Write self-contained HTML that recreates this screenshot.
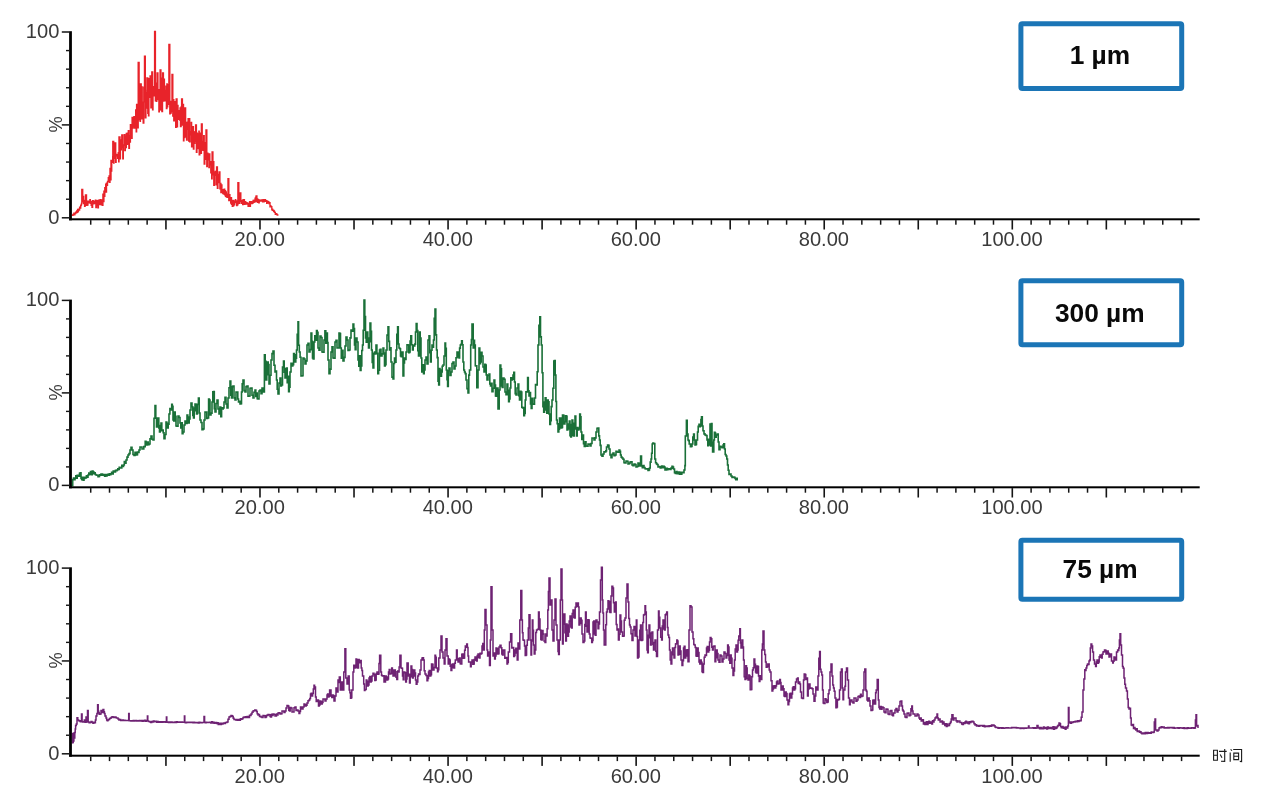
<!DOCTYPE html>
<html><head><meta charset="utf-8"><title>chromatograms</title>
<style>
html,body{margin:0;padding:0;background:#fff;}
body{width:1280px;height:807px;overflow:hidden;font-family:"Liberation Sans",sans-serif;}
svg{display:block;filter:blur(0.45px)}
.t{font-family:"Liberation Sans",sans-serif;font-size:20.1px;fill:#3a3a3a;}
.p{font-family:"Liberation Sans",sans-serif;font-size:18.3px;fill:#3a3a3a;}
.b{font-family:"Liberation Sans",sans-serif;font-size:26.3px;font-weight:bold;fill:#0a0a0a;}
.tr{fill:none;stroke-linejoin:miter;stroke-miterlimit:2;}
</style></head><body>
<svg width="1280" height="807" viewBox="0 0 1280 807">
<rect width="1280" height="807" fill="#fff"/>
<path class="tr" stroke="#e8232a" stroke-width="1.4" d="M72.0 215.1H72.5V215.2H73.0V214.4H73.4V214.4H73.9V213.3H74.3V214.8H74.8V213.1H75.3V213.6H75.6V212.2H76.2V212.7H76.7V211.0H77.1V212.2H77.6V209.4H78.0V211.6H78.4V209.1H79.0V210.1H79.6V207.2H80.1V208.1H80.7V205.5H81.1V204.9H81.5V203.5H81.8V189.5H82.7V201.7H83.1V196.4H83.6V203.5H84.1V200.5H84.6V206.3H85.1V201.0H85.5V195.0H86.5V205.4H87.0V201.1H87.5V205.1H87.9V201.1H88.4V202.8H88.8V201.5H89.4V202.4H89.9V199.8H90.3V203.3H90.9V202.1H91.2V205.2H91.6V201.5H92.0V207.2H92.6V200.7H93.2V203.8H93.6V201.3H93.9V203.5H94.4V201.5H94.8V203.3H95.4V200.3H95.9V207.6H96.4V200.7H96.9V205.6H97.4V201.0H97.9V207.7H98.4V200.2H98.9V203.2H99.3V202.5H99.8V204.6H100.1V199.8H100.6V202.2H101.1V200.2H101.5V204.8H102.0V200.0H102.4V205.2H102.9V194.1H103.3V201.5H103.9V191.1H104.4V196.4H104.8V187.8H105.2V191.6H105.7V184.3H106.2V192.0H106.5V183.2H107.1V185.3H107.5V181.5H107.9V181.9H108.3V177.8H108.7V179.9H109.1V175.9H109.6V182.4H110.0V168.4H110.5V179.9H111.0V160.4H111.3V171.1H111.7V161.7H112.3V162.3H112.7V156.8H112.8V141.5H113.7V163.1H114.0V146.5H114.6V158.2H114.8V143.0H115.7V162.3H116.1V155.0H116.5V155.9H117.1V154.4H117.7V158.2H118.3V152.8H118.7V161.9H119.0V137.0H120.0V158.9H120.4V141.8H120.8V149.8H121.3V140.0H121.8V148.2H121.8V135.0H122.8V158.8H123.3V144.9H123.8V145.2H124.4V134.8H124.8V150.6H125.3V136.3H125.8V147.5H126.3V133.4H126.8V144.2H127.4V133.3H127.8V143.8H128.3V130.7H128.9V148.4H129.4V135.8H129.8V142.0H130.4V124.7H130.8V134.3H131.3V124.8H131.7V138.3H132.1V117.4H132.5V128.1H132.8V126.7H133.4V126.5H133.9V116.6H134.3V128.0H134.8V118.4H135.2V124.8H135.7V109.9H136.2V131.8H136.6V104.5H137.0V121.4H137.5V111.6H138.0V127.9H138.2V62.5H139.1V119.8H139.6V104.3H140.1V121.4H140.4V84.0H141.2V118.9H141.8V87.0H142.2V110.6H142.8V102.2H143.2V123.1H143.8V87.2H144.3V101.9H144.5V56.3H145.3V117.9H145.9V92.6H146.4V108.1H146.8V90.5H146.9V78.0H147.8V113.4H148.1V80.3H148.5V115.7H148.9V78.6H149.4V97.2H150.0V90.2H150.1V76.0H150.9V107.8H151.5V77.5H151.8V72.0H152.6V109.9H153.0V90.5H153.6V95.7H154.0V86.8H154.6V31.5H155.4V100.9H155.9V87.8H156.4V101.3H156.8V83.2H157.1V73.0H157.9V99.6H158.4V95.4H158.9V111.7H159.3V89.8H159.8V109.4H160.1V70.0H160.9V110.0H161.5V78.1H161.9V111.5H162.5V85.2H162.6V73.0H163.4V101.0H163.9V79.3H164.4V100.3H164.8V90.4H165.4V100.7H165.9V86.1H166.4V108.5H166.9V83.9H167.2V106.7H167.7V84.6H168.1V104.4H168.7V85.9H168.9V44.5H169.8V113.9H170.2V101.4H170.8V113.0H171.2V101.5H171.8V111.3H172.0V74.5H172.8V116.1H173.3V99.7H173.8V120.9H174.4V110.7H174.8V114.1H175.2V101.7H175.7V127.3H176.2V99.0H177.0V126.8H177.5V105.5H178.0V115.1H178.4V112.5H178.8V119.4H179.3V110.7H179.7V120.1H180.1V108.0H180.5V126.5H181.1V106.9H181.6V99.0H182.4V125.0H183.0V104.5H183.5V140.7H183.9V121.2H184.4V137.6H184.8V108.0H185.6V136.7H186.2V122.6H186.6V140.0H187.2V122.1H187.7V129.0H188.1V118.7H188.7V141.1H189.1V118.6H189.7V141.7H190.1V131.7H190.6V134.9H191.2V122.4H191.6V146.7H192.1V130.3H192.6V142.8H193.0V126.6H193.4V149.0H193.9V132.9H194.5V143.2H194.9V131.8H195.4V141.0H195.6V125.0H196.4V152.2H196.9V133.1H197.3V148.6H197.9V134.0H198.4V143.6H198.9V131.3H199.2V154.9H199.8V133.1H200.2V148.8H200.7V142.6H201.2V153.2H201.4V124.0H202.2V150.1H202.7V141.5H203.1V150.2H203.7V135.8H204.2V164.1H204.8V142.8H205.3V159.3H205.8V153.5H206.0V130.0H206.8V166.6H207.3V153.2H207.9V159.7H208.4V157.1H208.9V167.6H209.3V153.9H209.8V164.8H210.3V161.7H210.8V172.8H211.3V167.1H211.7V178.8H212.1V152.0H212.9V174.9H213.4V161.6H213.8V185.2H214.3V172.3H214.8V175.3H215.4V171.4H215.9V184.7H216.5V170.7H216.6V167.0H217.4V188.3H217.9V178.6H218.4V182.5H218.7V174.5H219.1V172.0H219.9V188.9H220.5V183.5H220.9V192.6H221.4V185.0H221.9V192.0H222.3V190.2H222.8V193.5H223.3V189.7H223.8V194.0H224.1V189.1H224.7V194.9H225.1V190.6H225.5V196.2H226.0V191.9H226.3V196.9H226.7V194.3H227.1V197.3H227.6V194.7H228.0V178.8H228.8V200.6H229.3V194.6H229.9V200.4H230.3V198.0H230.7V203.1H231.1V197.6H231.5V204.4H231.9V201.2H232.3V206.2H232.8V200.5H233.2V205.9H233.7V200.9H234.1V204.9H234.7V201.3H235.0V202.5H235.4V199.7H235.7V202.3H236.3V201.7H236.7V205.5H237.1V201.0H237.7V204.8H237.9V182.7H238.8V203.2H239.3V197.6H239.8V203.2H239.9V193.0H240.8V201.5H241.3V200.5H241.7V203.2H242.2V200.6H242.7V204.6H243.1V199.8H243.5V204.1H244.0V199.8H244.4V204.2H244.9V201.6H245.3V203.7H245.7V202.2H246.1V204.1H246.6V202.7H247.0V204.0H247.6V203.2H248.1V206.4H248.6V203.9H249.1V204.4H249.6V201.8H250.0V206.3H250.4V202.7H250.8V203.6H251.3V201.7H251.6V203.5H252.2V202.2H252.5V203.0H253.1V200.4H253.6V202.3H254.1V200.2H254.7V201.6H255.1V198.3H255.5V201.8H255.8V197.2H256.1V196.0H256.9V201.5H257.3V198.9H257.7V202.2H258.2V199.8H258.8V202.9H259.2V200.2H259.7V201.1H260.2V200.2H260.8V201.1H261.3V199.9H261.8V200.9H262.2V199.9H262.6V201.7H263.1V199.8H263.6V201.9H264.1V199.8H264.7V201.4H265.1V199.6H265.5V201.3H266.1V200.8H266.7V203.3H267.2V201.3H267.7V202.0H268.2V201.8H268.8V203.5H269.4V202.8H270.0V206.7H270.4V205.6H270.8V206.6H271.3V206.7H271.8V209.7H272.2V209.2H272.6V210.4H273.0V210.2H273.6V211.4H273.9V210.9H274.4V212.2H274.8V212.4H275.3V214.2H275.9V213.6H276.3V214.1H276.8V214.1H277.2V215.1H278.0V215.5"/>
<path class="tr" stroke="#1a7038" stroke-width="1.6" d="M71.6 485.6H72.7V479.5H73.5V478.0H74.2V479.7H75.0V478.0H75.8V475.8H76.5V478.1H77.2V475.4H78.0V476.0H78.8V476.3H79.5V473.3H80.3V472.9H81.0V478.5H81.8V479.6H82.5V477.2H83.2V480.1H84.0V478.5H84.8V477.3H85.6V477.9H86.4V475.9H87.2V477.3H88.0V475.0H88.8V473.1H89.7V474.4H90.5V471.6H91.3V474.7H92.2V471.0H93.0V471.8H93.8V473.7H94.5V472.9H95.2V474.5H96.0V475.0H97.0V475.2H98.0V476.7H98.8V476.4H99.5V474.8H100.2V475.3H101.0V474.0H101.8V474.1H102.5V475.3H103.2V474.6H104.0V475.5H104.8V476.3H105.5V474.6H106.2V475.9H107.0V475.0H107.8V474.2H108.5V475.3H109.3V473.8H110.0V474.6H110.8V474.0H111.6V472.2H112.4V473.9H113.2V471.1H114.0V471.5H114.8V472.0H115.5V470.2H116.2V470.8H117.0V470.0H117.8V468.9H118.5V469.4H119.2V467.3H120.0V468.0H120.9V468.0H121.8V465.2H122.6V466.5H123.5V465.0H124.3V461.6H125.2V463.2H126.0V460.0H127.0V457.1H128.0V455.0H129.0V453.6H130.0V450.0H131.0V447.2H132.0V450.0H133.0V454.5H134.0V455.5H135.0V452.3H136.0V455.0H136.8V454.7H137.5V452.0H138.2V452.5H139.0V450.0H140.0V447.0H141.0V447.0H142.0V449.0H143.0V449.0H143.8V446.6H144.5V446.6H145.2V441.4H146.0V442.0H146.8V444.9H147.5V442.1H148.2V444.7H149.0V444.0H150.0V438.8H151.0V436.0H152.0V439.2H153.0V440.0H154.0V418.2H155.0V405.5H155.8V418.1H156.5V427.0H157.2V419.0H158.0V418.0H158.8V428.0H159.5V432.0H160.2V425.6H161.0V423.0H161.8V430.7H162.5V430.0H163.2V432.7H164.0V438.6H165.0V434.5H166.0V422.0H166.8V423.4H167.5V428.0H168.2V424.1H169.0V414.0H169.9V408.5H170.8V410.0H171.7V404.3H172.3V406.3H173.0V420.0H173.8V420.9H174.5V412.0H175.2V416.3H176.0V426.0H177.0V426.3H178.0V416.0H179.0V417.5H180.0V423.0H180.8V428.0H181.5V422.7H182.2V433.6H183.0V432.0H184.0V425.0H185.0V421.0H186.0V423.4H187.0V415.0H187.8V417.0H188.5V423.0H189.2V418.9H190.0V410.0H191.0V403.0H192.0V406.8H192.8V415.5H193.5V418.0H194.2V408.1H195.0V404.0H195.8V410.7H196.5V414.0H197.4V404.4H198.4V398.0H199.2V413.0H200.0V420.0H201.0V422.5H202.0V429.7H203.0V428.9H204.0V420.0H205.0V412.1H206.0V412.0H206.8V418.5H207.5V418.0H208.6V399.0H209.3V400.0H210.0V415.0H211.0V413.1H212.0V402.0H212.8V391.7H213.6V391.6H214.3V408.8H215.0V412.0H216.0V403.5H217.0V400.0H218.0V409.0H219.0V414.0H219.9V407.0H220.8V416.8H221.6V407.8H222.5V409.0H223.2V408.0H224.0V402.0H225.0V397.3H226.0V404.0H227.0V407.9H228.0V398.0H229.0V387.8H230.0V381.0H230.8V395.3H231.5V398.0H232.2V386.6H233.0V386.0H234.0V397.9H235.0V400.0H236.0V392.1H237.0V392.0H237.8V399.0H238.5V402.0H239.2V401.3H240.0V404.0H240.8V403.8H241.5V392.0H242.2V383.7H243.0V380.0H244.0V390.6H245.0V392.0H246.0V386.6H247.0V386.0H248.0V396.2H249.0V396.0H250.0V388.3H251.0V388.0H252.0V395.3H253.0V398.0H254.0V392.4H255.0V390.0H255.8V396.4H256.5V393.1H257.2V398.8H258.0V399.0H259.0V391.0H260.0V390.0H261.0V393.8H262.0V388.0H263.2V392.0H264.4V354.8H265.2V361.2H266.0V380.0H266.8V374.8H267.5V362.0H268.2V364.6H269.0V384.0H270.0V375.3H271.0V360.0H272.0V353.6H273.0V351.0H274.0V365.2H275.0V372.0H275.8V371.0H276.5V380.0H277.2V389.2H278.0V394.0H279.0V383.1H280.0V378.0H280.8V386.0H281.5V385.0H282.5V367.1H283.5V361.0H284.2V372.2H285.0V378.0H285.8V368.6H286.5V368.0H287.2V382.7H287.9V376.4H288.6V391.6H289.3V387.2H290.0V372.0H291.0V363.4H292.0V366.0H292.8V364.8H293.6V353.5H294.3V354.9H295.0V362.0H295.8V358.1H296.5V350.0H297.2V334.2H298.0V321.7H298.6V345.2H299.3V352.0H300.1V357.2H301.0V376.0H302.0V375.7H303.0V358.0H304.0V359.0H305.0V364.0H306.0V360.9H307.0V345.0H308.0V343.2H309.0V352.0H310.0V349.6H311.0V333.0H311.8V341.4H312.5V358.0H313.2V359.0H314.0V342.0H314.8V335.9H315.7V340.1H316.5V330.6H317.2V332.2H318.0V348.0H319.0V350.3H320.0V336.0H321.0V337.5H322.0V352.0H323.0V352.3H324.0V340.0H324.9V330.8H325.8V343.1H326.7V333.0H327.4V342.5H328.0V360.0H329.0V373.8H330.0V369.1H331.0V352.0H332.0V346.7H333.0V358.0H334.0V358.1H335.0V342.0H336.0V340.2H337.0V348.0H338.0V348.0H339.0V333.0H339.8V333.6H340.5V348.0H341.3V358.3H342.2V350.4H343.0V361.0H344.0V357.4H345.0V346.0H346.0V337.0H347.0V340.0H348.0V350.4H349.0V350.0H350.0V337.9H351.0V330.0H352.0V331.3H353.0V324.0H353.8V328.5H354.5V345.0H355.2V349.6H356.0V338.0H357.0V342.0H358.0V360.0H358.8V366.1H359.5V355.9H360.2V370.5H361.0V366.0H361.8V350.5H362.5V345.0H363.2V330.3H364.0V300.0H364.8V316.6H365.5V338.0H366.2V342.2H367.0V332.0H367.8V338.0H368.5V348.0H369.2V341.6H370.0V323.0H370.8V331.2H371.5V350.0H372.2V362.5H373.0V368.0H373.8V353.2H374.5V352.0H375.2V353.9H376.0V345.0H376.9V353.2H377.8V373.8H378.6V370.3H379.5V350.0H380.2V349.4H381.0V356.0H382.0V353.9H383.0V348.0H383.8V353.0H384.5V366.0H385.2V364.7H386.0V350.0H387.0V335.1H388.0V326.8H388.8V341.4H389.5V350.0H390.2V347.7H391.0V362.0H392.0V377.1H393.0V379.0H393.8V363.5H394.5V358.0H395.2V362.2H396.0V350.0H396.8V334.2H397.6V326.8H398.3V344.0H399.0V348.0H399.8V348.8H400.5V356.0H401.2V356.6H402.0V352.0H403.0V376.0H403.8V362.9H404.5V358.0H405.2V359.5H406.0V352.0H407.0V344.7H408.0V345.0H408.8V352.8H409.5V352.0H410.1V341.1H410.8V335.7H411.6V344.8H412.5V350.0H413.2V345.4H414.0V346.0H414.8V344.1H415.5V332.0H416.2V323.5H417.0V330.6H417.8V350.8H418.5V356.0H419.5V332.0H420.2V338.1H421.0V358.0H421.8V371.9H422.7V364.7H423.5V373.8H424.2V369.9H425.0V360.0H426.0V357.0H427.0V364.0H428.0V340.0H429.0V335.7H429.8V352.6H430.5V362.0H431.2V350.2H432.0V345.0H432.8V347.3H433.5V340.0H434.2V318.2H435.0V309.0H435.8V334.9H436.5V350.0H437.2V357.6H438.0V381.2H438.7V385.0H439.4V368.6H440.0V370.0H440.8V376.1H441.5V372.0H442.2V366.2H443.0V365.0H444.0V356.0H445.0V343.0H445.6V348.4H446.3V370.0H447.0V379.6H447.6V386.5H448.3V370.8H449.0V368.0H450.0V375.5H451.0V372.0H452.0V363.5H453.0V362.0H454.0V369.0H455.0V366.0H456.0V357.7H457.0V352.0H458.0V356.9H459.0V358.0H459.6V348.1H460.3V345.0H461.0V344.2H461.6V340.8H462.3V344.7H463.0V362.0H463.8V370.0H464.5V372.0H465.2V373.6H466.0V380.0H467.0V388.6H468.0V392.9H468.8V375.1H469.5V370.0H470.7V345.0H471.4V339.5H472.0V324.0H473.2V348.0H473.9V340.2H474.5V345.0H475.3V365.8H476.0V365.9H476.8V387.8H478.0V370.0H479.0V348.0H479.8V363.7H480.5V362.0H481.2V352.3H482.0V356.0H483.0V367.0H484.0V372.0H484.8V364.3H485.5V365.0H486.2V374.9H487.0V380.0H488.0V375.5H489.0V374.0H489.8V384.0H490.5V386.0H491.2V383.4H492.0V391.6H493.0V388.3H494.0V380.0H494.8V385.0H495.5V396.0H496.2V396.3H497.0V388.0H498.0V409.0H499.2V390.0H500.0V365.0H500.8V368.7H501.5V386.0H502.2V387.5H503.0V378.0H504.0V379.2H505.0V392.0H506.0V394.6H507.0V384.0H507.8V390.4H508.6V401.7H509.3V398.9H510.0V388.0H510.8V377.9H511.5V380.0H512.2V379.3H513.0V375.0H513.8V372.3H514.5V382.0H515.2V393.6H516.0V395.0H517.0V388.0H518.0V384.0H518.8V395.7H519.5V400.0H520.2V391.4H521.0V392.0H521.8V407.2H522.5V408.0H523.1V407.5H523.8V415.7H524.5V413.5H525.2V400.0H525.9V391.7H526.5V392.0H527.6V377.6H528.3V390.8H529.0V396.0H529.8V392.5H530.5V404.0H531.2V408.5H532.0V398.4H532.7V404.0H533.6V404.1H534.5V398.0H535.5V384.5H536.5V385.0H537.2V371.7H538.0V345.0H538.9V325.3H539.8V316.7H540.5V336.9H541.3V345.0H542.1V372.8H542.9V406.8H543.7V412.1H544.5V402.0H545.2V397.7H546.0V410.0H546.8V413.2H547.5V400.0H548.2V401.7H549.0V414.0H549.8V424.4H550.5V420.8H551.2V406.6H552.0V400.0H552.9V388.3H553.8V361.0H554.5V360.6H555.2V375.0H555.9V401.5H556.5V420.0H557.2V423.8H558.0V432.0H558.8V429.3H559.5V418.0H560.2V418.0H561.0V428.0H561.8V427.4H562.5V415.0H563.2V415.3H564.0V424.0H564.9V421.6H565.7V415.7H566.4V416.2H567.0V430.0H567.8V429.0H568.5V424.0H569.3V421.1H570.0V435.6H570.8V437.0H571.4V424.5H572.0V420.0H572.8V435.5H573.5V436.0H574.2V423.2H575.0V416.0H575.8V428.9H576.5V436.0H577.2V427.5H578.0V430.0H578.9V429.0H579.7V414.0H580.4V416.9H581.0V432.0H581.8V439.5H582.7V435.1H583.5V443.6H584.3V446.5H585.2V441.7H586.0V446.0H587.0V446.3H588.0V444.0H589.0V444.1H590.0V446.0H591.0V443.5H592.0V438.0H593.0V438.0H594.0V440.0H595.0V437.9H596.0V432.0H597.0V428.3H598.0V428.0H598.8V435.9H599.5V440.0H600.2V445.4H601.0V455.0H602.0V456.1H603.0V454.0H604.0V451.9H605.0V452.0H605.8V450.9H606.5V447.0H607.6V445.0H608.3V445.4H609.0V449.0H610.0V455.0H611.0V457.6H612.0V454.4H613.0V453.0H614.0V455.6H615.0V455.0H616.0V451.2H617.0V452.0H618.0V452.1H619.0V450.0H619.8V451.3H620.5V455.0H621.2V457.1H622.0V458.0H623.0V459.2H624.0V462.7H625.0V462.9H626.0V461.0H627.0V461.3H628.0V464.0H629.0V463.4H630.0V462.0H631.0V461.7H632.0V465.0H633.0V465.6H634.0V464.0H635.0V464.6H636.0V467.0H637.0V466.5H638.0V463.0H638.8V463.3H639.5V466.0H640.6V456.0H641.5V466.0H642.3V467.6H643.2V465.6H644.0V467.5H645.0V468.7H646.0V469.0H647.0V468.8H648.0V470.4H648.8V470.0H649.5V468.0H650.2V462.1H651.0V459.0H651.6V453.2H652.2V444.0H652.9V443.0H653.6V443.5H654.8V459.0H655.6V462.7H656.5V464.0H657.2V464.5H658.0V467.0H658.7V467.0H659.5V466.6H660.2V467.9H661.0V467.5H661.8V466.1H662.6V467.6H663.4V466.4H664.2V467.0H665.0V469.9H665.8V470.0H666.5V468.2H667.3V469.8H668.0V469.0H669.0V468.7H670.0V469.5H671.0V468.1H672.0V466.4H672.8V467.1H673.5V469.0H674.5V472.8H675.4V473.5H676.2V471.6H677.1V473.7H678.0V473.0H678.8V472.1H679.5V474.2H680.2V472.4H681.0V474.3H681.8V472.3H682.5V472.8H683.2V472.8H684.0V470.0H684.9V465.6H685.3V436.0H686.4V420.4H687.2V434.0H688.0V440.0H688.6V440.6H689.2V444.0H690.4V446.6H691.2V446.4H692.0V444.0H692.8V437.1H693.6V434.0H694.3V440.0H695.0V445.0H695.8V444.5H696.5V440.0H697.5V432.0H698.2V426.4H699.0V424.4H699.6V426.8H700.3V426.0H700.9V419.5H701.5V416.8H702.3V426.0H703.0V430.8H704.0V433.9H705.0V435.0H706.0V435.5H707.0V440.0H707.8V445.6H708.6V439.4H709.4V445.0H710.0V424.0H710.8V446.0H711.4V423.6H712.0V442.3H712.6V452.0H713.8V440.0H714.4V432.3H715.0V433.0H715.6V437.2H716.2V435.0H717.4V434.0H718.2V442.0H719.0V449.8H720.0V446.3H721.0V447.0H722.0V447.6H723.0V445.0H723.8V443.7H724.5V449.0H725.2V454.5H726.0V456.0H726.8V459.0H727.5V465.0H728.2V470.2H729.0V474.4H730.0V474.1H731.0V476.0H732.0V477.4H733.0V477.0H734.0V477.4H735.0V478.5H735.8V479.7H736.5V478.2H737.2V479.6H738.0V479.6"/>
<path class="tr" stroke="#6e2273" stroke-width="1.5" d="M72.3 743.0H72.5V733.5H72.9V742.5H73.2V734.0H73.6V741.0H73.9V733.0H74.3V738.0H74.8V732.5H75.2V729.0H75.6V725.6H76.3V724.0H77.0V717.8H77.8V720.0H78.7V720.8H79.3V720.7H80.0V721.5H80.9V721.7H81.5V713.9H82.1V721.7H82.8V722.0H83.5V722.0H84.3V720.0H85.2V722.3H86.0V717.0H86.5V722.0H87.0V721.0H87.5V710.4H88.2V722.0H89.1V722.7H90.0V722.5H91.0V721.4H92.0V722.3H92.9V723.3H93.8V722.2H94.7V722.8H95.4V720.0H96.0V716.0H96.9V713.4H97.6V704.8H98.2V711.0H98.6V712.6H99.2V714.2H99.9V713.9H101.0V710.5H102.0V712.5H103.0V709.5H103.8V711.7H104.4V713.5H105.0V716.0H106.0V718.0H106.7V720.1H107.3V720.8H107.9V720.0H108.5V719.5H109.5V718.6H110.2V718.3H111.0V717.5H112.0V716.8H112.9V716.9H113.8V717.5H114.6V717.0H115.5V717.3H116.3V718.1H117.2V718.1H118.0V719.0H118.9V720.1H119.8V719.5H120.7V720.4H121.6V720.6H122.4V720.1H123.3V720.5H124.1V720.2H125.0V720.5H125.8V720.6H126.7V720.4H127.6V720.6H128.4V720.5H128.7V713.4H129.2V720.8H130.0V720.7H130.9V721.1H131.7V720.7H132.5V721.0H133.3V720.6H134.2V720.9H135.0V720.8H135.8V720.4H136.7V721.0H137.5V720.7H138.3V721.0H139.2V720.4H140.0V720.8H140.8V721.1H141.6V720.5H142.3V721.2H143.1V720.5H143.9V721.1H144.7V720.3H145.4V721.3H146.2V720.6H147.0V720.8H147.4V716.0H147.8V721.0H148.5V721.5H149.3V721.5H150.0V722.0H150.8V722.5H151.7V721.4H152.5V722.0H153.3V721.1H154.2V721.8H155.0V721.5H155.8V721.3H156.7V722.2H157.5V721.6H158.3V722.2H159.2V721.8H160.0V722.0H160.8V722.2H161.5V721.8H162.2V722.2H163.0V721.7H163.8V722.1H164.5V721.8H165.2V722.2H166.0V722.0H166.4V717.0H166.8V722.3H167.7V722.1H168.5V722.5H169.4V722.0H170.3V722.6H171.1V722.1H172.0V722.3H172.8V722.5H173.5V722.2H174.2V722.4H175.0V721.9H175.8V722.4H176.5V721.8H177.2V722.2H178.0V722.0H178.8V721.9H179.5V722.3H180.2V722.0H181.0V722.3H181.8V722.1H182.5V722.3H183.2V722.2H184.0V722.3H184.4V716.0H184.8V722.5H185.7V722.7H186.5V722.3H187.4V722.5H188.3V722.2H189.1V722.6H190.0V722.3H190.8V722.3H191.5V722.5H192.2V722.2H193.0V722.7H193.8V722.2H194.5V722.8H195.2V722.4H196.0V722.6H196.8V722.8H197.6V722.5H198.3V722.9H199.1V722.3H199.9V722.7H200.7V722.5H201.4V722.7H202.2V722.5H203.0V722.6H204.0V716.5H204.6V722.6H205.4V722.7H206.1V722.3H206.9V722.6H207.7V722.4H208.5V722.5H209.2V722.2H210.0V722.3H210.8V722.9H211.7V721.8H212.5V723.1H213.3V722.2H214.2V723.2H215.0V722.8H215.8V722.4H216.6V723.5H217.4V722.7H218.2V724.5H219.0V724.0H219.8V723.3H220.6V724.4H221.4V723.3H222.2V724.0H223.0V723.5H223.8V723.0H224.6V723.4H225.4V722.4H226.2V722.5H227.0V722.0H228.0V719.2H229.0V717.0H230.0V716.5H231.0V715.6H231.8V715.7H232.5V716.5H233.2V718.2H234.0V719.5H234.8V719.4H235.6V720.0H236.4V719.6H237.2V720.3H238.0V720.0H238.8V719.6H239.6V720.3H240.4V718.7H241.2V719.3H242.0V718.8H243.0V717.6H244.0V717.0H244.8V717.5H245.6V716.8H246.4V717.6H247.2V716.6H248.0V717.5H248.8V717.5H249.5V715.2H250.2V715.4H251.0V714.0H252.0V712.2H253.0V711.0H253.9V710.8H254.8V710.0H255.7V710.2H256.5V711.5H257.2V713.7H258.0V715.0H258.8V714.5H259.5V716.4H260.2V716.2H261.0V717.0H262.0V717.4H263.0V715.5H264.0V715.8H265.0V717.5H265.8V717.1H266.5V715.2H267.2V715.5H268.0V714.5H269.0V714.8H270.0V716.5H270.8V717.1H271.5V714.2H272.2V715.5H273.0V714.0H274.0V714.5H275.0V716.0H275.8V716.0H276.5V714.0H277.2V715.0H278.0V713.0H279.0V712.7H280.0V714.0H281.0V713.7H282.0V711.0H283.0V710.9H284.0V712.5H285.0V710.9H286.0V708.0H287.0V705.5H288.0V706.0H288.8V710.3H289.5V711.0H290.2V707.6H291.0V708.0H292.0V712.0H293.0V712.0H294.0V707.7H295.0V707.0H296.0V710.4H297.0V710.0H298.0V710.9H299.0V713.5H299.8V711.5H300.5V707.0H301.2V707.1H302.0V709.0H303.0V706.9H304.0V704.0H304.8V704.6H305.5V706.0H306.2V705.2H307.0V702.9H308.0V700.7H309.0V700.0H309.8V698.4H310.5V694.0H311.2V693.3H312.0V696.0H312.6V693.5H313.3V689.0H314.0V685.2H314.6V687.0H315.5V697.0H316.2V701.5H317.0V700.0H317.8V700.1H318.5V706.0H319.2V705.0H320.0V701.0H320.8V701.4H321.5V704.0H322.2V702.6H323.0V699.0H324.0V698.9H325.0V701.0H326.0V699.1H327.0V695.0H327.6V693.9H328.3V697.0H329.0V696.3H329.6V690.0H330.3V689.9H331.0V696.0H331.8V697.6H332.5V695.0H333.2V695.4H334.0V701.0H335.0V696.0H336.0V688.0H337.0V692.0H338.0V680.0H338.6V682.5H339.3V677.0H340.3V690.0H341.5V682.0H342.7V690.0H343.8V672.0H344.9V648.8H345.8V678.0H347.0V684.0H348.2V676.0H349.2V690.0H349.9V692.8H350.5V698.3H351.1V697.8H351.8V690.0H353.0V672.0H353.8V665.3H354.5V668.0H355.2V667.6H356.0V659.0H356.6V659.5H357.3V668.0H358.5V659.5H359.2V662.7H360.0V660.4H361.2V668.0H361.9V670.4H362.5V676.0H363.7V684.0H364.4V690.6H365.0V689.6H366.2V680.0H366.9V681.3H367.5V686.0H368.2V685.0H369.0V678.0H369.8V676.5H370.5V682.0H371.2V680.9H372.0V676.0H373.0V673.3H374.0V674.4H374.8V680.6H375.5V680.0H376.2V673.4H377.0V672.0H377.6V674.2H378.3V674.0H379.0V663.6H379.6V655.3H380.8V672.0H381.5V675.2H382.2V676.0H383.1V675.7H384.0V682.0H384.8V682.0H385.5V676.0H386.2V676.9H387.0V680.0H387.8V679.1H388.5V672.0H389.2V669.5H390.0V674.0H390.9V673.6H391.7V668.0H392.4V669.9H393.0V676.0H393.8V676.1H394.5V670.0H395.3V671.7H396.0V677.3H396.8V679.4H397.6V671.0H398.3V672.0H399.1V667.1H399.9V655.3H401.0V668.0H401.8V668.3H402.5V676.0H403.2V679.7H404.0V672.0H404.9V672.8H405.7V682.0H406.4V679.0H407.0V663.0H408.2V676.0H408.9V674.3H409.5V683.0H410.2V676.7H411.0V666.0H411.8V669.6H412.5V678.0H413.2V676.1H414.0V670.0H414.8V673.1H415.5V680.0H416.2V684.2H417.0V682.0H417.8V676.0H418.5V674.0H419.2V674.6H420.0V670.0H421.0V660.0H422.0V657.9H422.8V657.7H423.5V660.0H424.2V670.7H425.0V674.0H426.0V675.4H427.0V680.7H427.8V678.6H428.5V672.0H429.2V670.5H430.0V676.0H430.8V674.8H431.5V664.0H432.2V664.2H433.0V670.0H434.0V667.5H435.0V655.3H435.6V657.3H436.3V668.0H437.5V671.8H438.1V669.7H438.8V658.0H440.0V650.0H441.0V636.0H442.0V652.0H443.0V658.0H444.2V664.0H445.0V650.0H446.0V638.8H447.0V656.0H448.2V664.0H448.9V659.0H449.5V660.0H450.2V666.3H451.0V670.6H451.8V664.6H452.5V664.0H453.2V667.7H454.0V668.0H454.6V663.2H455.3V660.0H456.5V650.0H457.2V659.3H458.0V662.0H458.8V658.4H459.5V658.0H460.2V663.8H461.0V664.0H461.8V654.3H462.5V654.0H463.2V658.3H464.0V658.0H464.6V650.3H465.3V646.0H466.0V647.2H466.7V643.9H467.4V647.6H468.0V656.0H468.6V662.0H469.3V662.0H470.5V666.7H471.2V662.3H472.0V660.0H472.8V664.3H473.5V664.0H474.2V659.4H475.0V657.0H475.8V660.2H476.5V661.0H477.2V655.5H478.0V654.0H478.6V657.5H479.3V658.0H480.0V653.3H480.6V654.0H481.3V653.4H482.0V646.0H482.8V643.5H483.5V650.0H484.3V630.0H485.0V609.6H486.0V625.0H487.0V650.0H487.6V656.0H488.3V652.0H489.5V665.5H490.3V640.0H491.0V586.7H492.0V630.0H493.0V656.0H493.8V652.9H494.6V659.0H495.3V656.1H496.0V648.0H496.8V648.4H497.5V654.0H498.2V653.7H499.0V647.0H500.0V645.3H501.0V647.7H501.8V654.0H502.5V655.0H503.2V650.1H504.0V650.0H504.8V658.2H505.5V658.0H506.2V657.4H507.0V664.0H507.6V662.5H508.3V652.0H509.5V642.0H510.6V633.7H511.8V648.0H512.8V647.4H513.7V656.6H514.4V655.4H515.0V650.0H515.8V648.2H516.5V653.0H517.2V659.9H518.0V642.9H518.7V649.0H519.8V620.0H520.8V590.6H521.8V620.0H522.4V632.8H523.0V640.0H523.8V640.3H524.5V646.0H525.2V655.5H526.0V655.0H526.6V645.2H527.3V640.0H528.3V628.0H529.0V614.7H530.0V640.0H531.0V655.0H531.6V641.0H532.3V620.0H532.9V630.2H533.5V645.0H534.2V654.1H535.0V650.0H535.8V632.6H536.5V630.0H537.5V629.3H538.5V612.0H539.2V619.1H540.0V630.0H540.8V639.6H541.5V640.0H542.2V630.4H543.0V634.0H544.0V641.1H545.0V642.6H545.8V633.9H546.5V636.0H547.1V628.8H547.8V610.0H548.4V591.5H549.0V577.9H550.0V605.0H551.0V600.0H552.0V630.0H553.0V641.0H554.0V620.0H555.0V599.0H556.0V625.0H557.0V640.0H558.0V651.5H558.6V654.4H559.3V640.0H560.3V600.0H561.0V569.0H562.0V600.0H562.5V644.0H563.2V624.3H564.0V614.0H564.9V632.8H565.7V641.0H566.4V624.1H567.0V625.0H567.8V636.3H568.5V632.0H569.2V621.0H570.0V616.0H570.8V626.9H571.5V628.0H572.2V613.5H573.0V610.0H573.8V617.4H574.5V618.0H575.2V607.3H576.0V603.0H576.9V606.3H577.8V603.0H578.4V607.0H579.0V625.0H579.8V623.4H580.5V618.0H581.2V620.2H582.0V634.0H583.0V642.5H584.0V641.0H584.8V624.6H585.5V612.0H586.2V626.2H587.0V632.0H587.8V619.7H588.5V620.0H589.2V634.1H590.0V638.0H590.9V638.2H591.7V642.6H592.4V640.6H593.0V622.0H593.8V621.0H594.5V634.0H595.2V635.2H596.0V620.0H597.0V622.0H598.0V628.7H598.8V624.1H599.5V612.0H600.5V580.0H601.4V567.2H602.3V600.0H602.9V612.9H603.5V630.0H604.2V644.9H605.0V645.0H605.8V624.8H606.5V612.0H607.2V609.1H608.0V600.7H608.8V601.5H609.5V612.0H610.2V612.4H611.0V596.0H611.9V586.2H612.8V588.0H613.5V602.8H614.3V612.0H614.9V604.1H615.5V602.0H616.2V624.4H617.0V630.0H617.7V629.1H618.4V640.0H619.2V634.3H620.0V615.0H620.8V621.1H621.5V632.0H622.5V636.2H623.5V636.0H624.2V620.2H625.0V618.0H626.0V598.0H627.0V584.0H628.0V602.0H628.8V618.4H629.5V625.0H630.2V627.0H631.0V633.7H632.0V640.4H633.0V630.0H634.0V626.6H635.0V636.0H635.6V635.6H636.3V620.0H636.9V636.5H637.5V657.9H638.2V656.9H639.0V640.0H639.8V630.2H640.5V625.0H641.2V640.5H642.0V640.0H642.8V622.4H643.5V615.0H644.2V614.6H645.0V605.8H645.6V612.1H646.3V630.0H647.0V649.9H647.6V652.8H648.3V635.2H649.0V625.0H649.8V637.7H650.5V645.0H651.2V632.9H652.0V632.0H652.8V644.5H653.5V650.0H654.2V642.4H655.0V640.0H655.8V651.3H656.5V656.6H657.5V630.0H658.5V610.9H659.1V617.3H659.8V628.0H660.7V637.3H661.6V640.0H662.3V626.0H663.0V620.0H663.8V629.0H664.5V630.0H665.2V614.7H666.0V614.0H666.7V612.0H667.4V627.4H668.0V635.0H668.8V637.5H669.5V650.0H670.2V659.9H671.0V664.0H671.8V652.0H672.5V648.0H673.2V654.8H674.0V658.0H674.8V647.6H675.5V644.0H676.1V643.8H676.8V640.0H677.4V640.9H678.0V655.0H678.8V654.3H679.5V646.0H680.2V650.9H681.0V660.0H682.0V665.5H682.8V660.8H683.5V648.0H684.2V646.3H685.0V658.0H685.8V656.0H686.5V650.0H687.2V649.8H688.0V661.7H689.0V630.0H690.0V605.8H691.0V607.0H692.0V632.0H693.0V638.8H693.8V644.5H694.5V645.0H695.2V647.6H696.0V656.0H696.8V656.2H697.5V648.0H698.2V652.5H699.0V662.0H699.8V663.9H700.5V660.0H701.2V662.3H702.0V671.8H702.8V672.6H703.5V664.0H704.2V657.3H705.0V655.0H705.8V655.6H706.5V648.0H707.2V646.4H708.0V652.0H708.8V650.3H709.5V642.0H710.2V637.6H711.0V638.8H711.8V647.3H712.5V650.0H713.2V646.5H714.0V646.0H715.0V661.7H715.8V657.7H716.5V650.0H717.2V653.5H718.0V660.0H719.0V662.3H720.0V655.0H721.0V656.1H722.0V662.0H723.0V659.0H724.0V652.0H725.0V653.4H726.0V658.0H726.8V655.5H727.6V645.0H728.3V647.1H729.0V660.0H729.8V663.2H730.5V655.0H731.2V658.2H732.0V668.0H733.0V675.6H733.8V670.9H734.5V660.0H735.2V649.1H736.0V645.0H736.8V651.9H737.5V650.0H738.1V640.3H738.8V636.0H739.8V628.7H740.4V643.0H741.0V648.0H742.0V640.0H742.8V647.0H743.5V660.0H744.2V676.7H745.0V679.4H745.8V665.7H746.5V668.0H747.2V678.6H748.0V680.0H748.8V674.9H749.5V676.0H750.2V689.8H751.0V689.6H751.8V676.7H752.5V670.0H753.2V667.7H754.0V659.0H754.8V664.2H755.5V672.0H756.2V672.9H757.0V666.0H757.8V666.5H758.5V676.0H759.2V681.5H759.9V675.7H760.6V679.4H761.8V650.0H762.4V644.1H763.0V631.0H764.0V650.0H764.8V654.5H765.5V662.0H766.2V667.3H767.0V666.7H767.8V664.0H768.5V664.0H769.2V669.9H770.0V672.0H771.0V680.8H772.0V690.9H772.8V689.1H773.5V686.0H774.2V685.7H775.0V688.0H775.8V686.1H776.5V682.0H777.2V681.0H778.0V684.0H778.9V683.4H779.7V679.4H780.4V682.5H781.0V690.0H781.8V690.1H782.5V686.0H783.2V688.8H784.0V696.0H784.8V696.6H785.5V692.0H786.2V693.5H787.0V700.0H788.0V704.8H788.8V701.6H789.5V694.0H790.2V693.2H791.0V698.0H791.8V693.9H792.5V688.0H793.2V686.8H794.0V690.0H794.8V688.8H795.5V682.0H796.5V679.1H797.5V678.0H798.2V683.4H799.0V682.0H799.8V683.9H800.5V692.0H801.5V698.0H802.5V698.5H803.5V680.0H804.2V674.1H805.0V674.4H805.8V679.5H806.5V678.0H807.5V696.0H808.2V688.9H809.0V684.0H810.0V688.2H811.0V688.0H812.0V688.8H813.0V694.0H814.0V701.2H815.0V696.0H815.8V686.9H816.5V690.0H817.2V690.0H818.0V676.0H818.8V658.3H819.6V651.5H820.3V669.2H821.0V672.0H821.8V674.9H822.5V690.0H823.2V703.1H824.0V703.6H825.0V698.7H826.0V700.0H826.8V702.6H827.5V702.0H828.2V693.8H829.0V690.0H830.0V672.0H831.0V664.0H832.0V676.0H832.8V684.9H833.5V688.0H834.2V691.3H835.0V698.0H835.9V707.7H836.8V707.0H837.4V699.6H838.0V700.0H838.8V699.2H839.5V690.0H840.5V672.0H841.4V669.0H842.2V688.0H843.0V699.8H843.6V689.9H844.3V690.0H844.9V686.3H845.5V672.0H846.5V668.0H847.5V680.0H848.5V698.0H849.5V704.8H850.2V700.7H851.0V700.0H852.0V702.1H853.0V703.0H854.0V698.1H855.0V698.0H856.0V701.3H857.0V700.0H858.0V696.6H859.0V696.0H859.8V697.5H860.5V694.3H861.2V696.6H862.0V696.0H863.0V690.0H864.0V672.0H864.8V669.0H865.8V690.0H866.4V691.2H867.0V700.0H867.8V700.9H868.5V698.0H869.2V700.8H870.0V706.0H871.0V710.5H872.0V710.0H872.8V700.3H873.5V700.0H874.2V704.0H875.0V704.0H875.6V692.7H876.2V690.0H877.2V679.6H878.3V700.0H879.0V707.4H879.7V709.0H880.5V706.5H881.2V709.2H882.0V707.0H883.0V707.8H884.0V712.0H885.0V712.7H886.0V709.0H887.0V709.2H888.0V714.0H889.0V714.5H890.0V711.0H890.9V710.5H891.9V715.0H892.8V715.8H893.5V712.9H894.3V713.1H895.0V710.0H896.0V708.6H897.0V712.0H898.0V710.3H899.0V706.0H900.0V701.6H901.0V701.0H901.8V706.1H902.5V710.0H903.2V711.3H904.0V714.0H905.0V716.9H906.0V717.4H907.0V713.3H908.0V713.0H909.0V715.8H910.0V715.0H910.9V708.7H911.8V706.0H912.4V710.9H913.0V714.0H914.0V713.9H915.0V716.0H916.0V716.0H917.0V714.0H918.0V715.0H919.0V718.0H919.8V719.3H920.5V717.9H921.2V720.9H922.0V721.0H922.7V719.8H923.4V723.9H924.2V722.4H924.9V724.4H925.6V724.0H926.4V721.8H927.2V724.4H928.0V722.0H928.8V721.2H929.5V723.2H930.2V722.1H931.0V723.0H931.8V724.0H932.5V720.8H933.2V721.9H934.0V720.0H935.0V717.9H936.0V717.0H937.0V714.0H937.6V718.1H938.3V720.0H939.2V718.9H940.1V721.9H941.0V722.0H941.8V721.0H942.5V724.1H943.2V721.9H944.0V724.0H944.8V725.6H945.5V723.8H946.3V726.5H947.1V724.0H947.8V725.7H948.6V725.6H949.5V723.4H950.5V722.0H951.2V719.1H951.9V714.8H953.0V720.0H954.0V718.0H955.0V718.0H956.0V720.8H957.0V722.0H958.0V721.1H959.0V721.0H959.9V722.6H960.8V722.5H961.7V724.0H962.5V724.5H963.4V722.8H964.2V723.5H965.0V722.0H965.8V721.3H966.5V723.1H967.2V722.0H968.0V723.5H968.8V723.7H969.5V721.7H970.2V722.4H971.0V721.5H972.0V721.3H973.0V722.0H974.0V723.8H975.0V725.0H975.8V724.7H976.5V725.9H977.2V725.5H978.0V726.0H978.8V726.2H979.6V725.5H980.4V725.8H981.2V725.4H982.0V725.5H982.8V726.2H983.6V725.6H984.4V726.7H985.2V726.1H986.0V726.5H986.8V726.6H987.6V725.9H988.4V726.4H989.2V725.8H990.0V726.0H990.8V726.3H991.5V725.0H992.2V725.8H993.0V725.0H994.0V725.8H995.0V727.0H995.9V727.6H996.9V727.4H997.8V728.0H998.5V728.2H999.3V727.8H1000.0V728.1H1000.8V727.8H1001.5V728.2H1002.3V727.8H1003.0V728.0H1003.8V728.2H1004.6V727.9H1005.3V728.1H1006.1V727.7H1006.9V728.1H1007.7V727.8H1008.4V728.1H1009.2V727.9H1010.0V728.0H1010.8V728.1H1011.6V727.5H1012.4V727.8H1013.2V727.4H1014.0V727.5H1014.8V727.7H1015.6V727.5H1016.4V728.0H1017.2V727.8H1018.0V728.0H1018.8V728.1H1019.5V727.9H1020.2V728.4H1021.0V727.9H1021.8V728.2H1022.5V727.9H1023.2V728.5H1024.0V728.2H1024.8V728.0H1025.6V728.2H1026.4V728.0H1027.2V728.1H1028.0V728.0H1028.5V726.0H1029.0V728.0H1029.8V727.9H1030.6V728.1H1031.3V727.9H1032.1V728.1H1032.9V727.8H1033.7V728.3H1034.4V727.8H1035.2V728.2H1036.0V728.0H1037.0V725.5H1038.0V728.0H1038.8V727.4H1039.6V728.8H1040.3V727.5H1041.1V728.7H1041.9V727.9H1042.7V728.7H1043.4V727.1H1044.2V728.6H1045.0V728.3H1045.8V727.5H1046.7V729.1H1047.5V727.0H1048.3V728.6H1049.2V727.5H1050.0V728.0H1050.8V728.6H1051.5V727.4H1052.2V728.8H1053.0V726.8H1053.8V729.3H1054.5V727.0H1055.2V728.5H1056.0V728.2H1056.8V726.9H1057.5V726.0H1058.2V725.2H1059.0V723.0H1059.8V723.7H1060.5V726.5H1061.3V727.8H1062.2V726.6H1063.0V728.0H1063.7V728.3H1064.5V727.3H1065.2V729.2H1066.0V726.9H1066.7V728.0H1067.8V726.0H1068.4V707.6H1069.0V722.0H1070.0V723.0H1070.8V723.3H1071.5V721.9H1072.2V722.5H1073.0V722.0H1073.8V721.7H1074.5V721.9H1075.2V721.3H1076.0V721.5H1076.8V721.8H1077.5V720.7H1078.2V721.6H1079.0V721.0H1079.8V720.4H1080.5V720.7H1081.2V717.2H1082.0V712.0H1083.0V690.0H1083.9V678.9H1084.8V669.8H1085.4V670.4H1086.0V668.0H1086.8V665.4H1087.5V664.0H1088.2V664.5H1089.0V661.0H1089.7V660.0H1090.3V648.0H1091.0V644.0H1091.8V646.0H1092.6V652.0H1093.5V660.0H1094.5V664.0H1095.6V666.6H1096.3V661.9H1097.0V660.0H1097.8V663.2H1098.5V662.0H1099.2V656.8H1100.0V655.0H1100.8V657.3H1101.5V658.0H1102.2V654.3H1103.0V652.0H1103.8V651.7H1104.5V650.0H1105.2V650.3H1106.0V654.0H1106.8V653.9H1107.5V651.0H1108.2V653.3H1109.0V657.0H1109.8V656.0H1110.5V654.0H1111.5V661.0H1112.1V660.9H1112.7V663.0H1113.3V661.2H1114.0V657.0H1114.8V657.6H1115.5V660.0H1116.5V652.0H1117.6V650.0H1118.2V650.4H1118.8V648.0H1119.4V640.0H1120.0V633.7H1120.7V645.0H1121.5V655.0H1122.5V666.6H1123.2V668.2H1124.0V678.0H1124.8V684.3H1125.5V688.0H1126.5V690.9H1127.4V699.0H1128.2V707.4H1129.0V709.0H1129.8V708.3H1130.5V718.0H1131.2V725.1H1132.0V725.6H1132.8V724.6H1133.5V728.5H1134.2V727.4H1135.0V729.0H1135.8V730.0H1136.5V728.8H1137.2V731.4H1138.0V731.0H1138.8V731.0H1139.5V732.3H1140.2V731.8H1141.0V733.0H1141.9V733.8H1142.9V733.1H1143.8V733.8H1144.5V733.7H1145.3V732.4H1146.0V732.5H1146.8V733.4H1147.5V732.6H1148.2V733.2H1149.0V733.2H1149.8V732.7H1150.5V733.3H1151.2V732.1H1152.0V732.5H1152.8V732.5H1153.7V732.0H1154.3V722.0H1155.0V719.0H1155.6V730.0H1156.3V730.0H1157.0V731.0H1158.0V730.0H1159.0V728.0H1159.7V727.4H1160.5V727.7H1161.2V726.7H1161.9V727.0H1162.7V727.5H1163.5V727.0H1164.2V728.0H1165.0V728.0H1165.8V727.8H1166.7V728.1H1167.5V727.6H1168.3V728.0H1169.2V727.4H1170.0V727.5H1170.8V727.7H1171.7V727.6H1172.5V727.9H1173.3V727.6H1174.2V728.2H1175.0V728.0H1175.8V727.9H1176.7V728.1H1177.5V727.8H1178.3V728.2H1179.2V727.7H1180.0V727.8H1180.8V727.9H1181.7V727.9H1182.5V728.2H1183.3V727.8H1184.2V728.4H1185.0V728.2H1185.8V727.9H1186.7V728.4H1187.5V727.8H1188.3V728.2H1189.2V727.9H1190.0V728.0H1190.8V728.3H1191.6V727.8H1192.3V728.1H1193.1V727.8H1193.9V728.2H1194.7V728.0H1195.4V720.0H1196.0V714.8H1196.6V726.0H1197.3V725.4H1198.0V728.0"/>
<rect x="69.1" y="31.2" width="2.8" height="189.1" fill="#000"/>
<rect x="69.1" y="218.30" width="1130.6" height="2.0" fill="#000"/>
<rect x="61.8" y="217.05" width="7.5" height="1.5" fill="#151515"/>
<rect x="66" y="198.52" width="3.3" height="1.4" fill="#151515"/>
<rect x="66" y="179.94" width="3.3" height="1.4" fill="#151515"/>
<rect x="66" y="161.36" width="3.3" height="1.4" fill="#151515"/>
<rect x="66" y="142.78" width="3.3" height="1.4" fill="#151515"/>
<rect x="61.8" y="124.15" width="7.5" height="1.5" fill="#151515"/>
<rect x="66" y="105.62" width="3.3" height="1.4" fill="#151515"/>
<rect x="66" y="87.04" width="3.3" height="1.4" fill="#151515"/>
<rect x="66" y="68.46" width="3.3" height="1.4" fill="#151515"/>
<rect x="66" y="49.88" width="3.3" height="1.4" fill="#151515"/>
<rect x="61.8" y="31.25" width="7.5" height="1.5" fill="#151515"/>
<rect x="89.96" y="220.1" width="1.5" height="4.6" fill="#151515"/>
<rect x="108.77" y="220.1" width="1.5" height="4.6" fill="#151515"/>
<rect x="127.57" y="220.1" width="1.5" height="4.6" fill="#151515"/>
<rect x="146.38" y="220.1" width="1.5" height="4.6" fill="#151515"/>
<rect x="165.14" y="220.1" width="1.6" height="9.4" fill="#151515"/>
<rect x="184.00" y="220.1" width="1.5" height="4.6" fill="#151515"/>
<rect x="202.81" y="220.1" width="1.5" height="4.6" fill="#151515"/>
<rect x="221.61" y="220.1" width="1.5" height="4.6" fill="#151515"/>
<rect x="240.42" y="220.1" width="1.5" height="4.6" fill="#151515"/>
<rect x="259.18" y="220.1" width="1.6" height="9.4" fill="#151515"/>
<rect x="278.04" y="220.1" width="1.5" height="4.6" fill="#151515"/>
<rect x="296.85" y="220.1" width="1.5" height="4.6" fill="#151515"/>
<rect x="315.65" y="220.1" width="1.5" height="4.6" fill="#151515"/>
<rect x="334.46" y="220.1" width="1.5" height="4.6" fill="#151515"/>
<rect x="353.22" y="220.1" width="1.6" height="9.4" fill="#151515"/>
<rect x="372.08" y="220.1" width="1.5" height="4.6" fill="#151515"/>
<rect x="390.89" y="220.1" width="1.5" height="4.6" fill="#151515"/>
<rect x="409.69" y="220.1" width="1.5" height="4.6" fill="#151515"/>
<rect x="428.50" y="220.1" width="1.5" height="4.6" fill="#151515"/>
<rect x="447.26" y="220.1" width="1.6" height="9.4" fill="#151515"/>
<rect x="466.12" y="220.1" width="1.5" height="4.6" fill="#151515"/>
<rect x="484.93" y="220.1" width="1.5" height="4.6" fill="#151515"/>
<rect x="503.73" y="220.1" width="1.5" height="4.6" fill="#151515"/>
<rect x="522.54" y="220.1" width="1.5" height="4.6" fill="#151515"/>
<rect x="541.30" y="220.1" width="1.6" height="9.4" fill="#151515"/>
<rect x="560.16" y="220.1" width="1.5" height="4.6" fill="#151515"/>
<rect x="578.97" y="220.1" width="1.5" height="4.6" fill="#151515"/>
<rect x="597.77" y="220.1" width="1.5" height="4.6" fill="#151515"/>
<rect x="616.58" y="220.1" width="1.5" height="4.6" fill="#151515"/>
<rect x="635.34" y="220.1" width="1.6" height="9.4" fill="#151515"/>
<rect x="654.20" y="220.1" width="1.5" height="4.6" fill="#151515"/>
<rect x="673.01" y="220.1" width="1.5" height="4.6" fill="#151515"/>
<rect x="691.81" y="220.1" width="1.5" height="4.6" fill="#151515"/>
<rect x="710.62" y="220.1" width="1.5" height="4.6" fill="#151515"/>
<rect x="729.38" y="220.1" width="1.6" height="9.4" fill="#151515"/>
<rect x="748.24" y="220.1" width="1.5" height="4.6" fill="#151515"/>
<rect x="767.05" y="220.1" width="1.5" height="4.6" fill="#151515"/>
<rect x="785.85" y="220.1" width="1.5" height="4.6" fill="#151515"/>
<rect x="804.66" y="220.1" width="1.5" height="4.6" fill="#151515"/>
<rect x="823.42" y="220.1" width="1.6" height="9.4" fill="#151515"/>
<rect x="842.28" y="220.1" width="1.5" height="4.6" fill="#151515"/>
<rect x="861.09" y="220.1" width="1.5" height="4.6" fill="#151515"/>
<rect x="879.89" y="220.1" width="1.5" height="4.6" fill="#151515"/>
<rect x="898.70" y="220.1" width="1.5" height="4.6" fill="#151515"/>
<rect x="917.46" y="220.1" width="1.6" height="9.4" fill="#151515"/>
<rect x="936.32" y="220.1" width="1.5" height="4.6" fill="#151515"/>
<rect x="955.13" y="220.1" width="1.5" height="4.6" fill="#151515"/>
<rect x="973.93" y="220.1" width="1.5" height="4.6" fill="#151515"/>
<rect x="992.74" y="220.1" width="1.5" height="4.6" fill="#151515"/>
<rect x="1011.50" y="220.1" width="1.6" height="9.4" fill="#151515"/>
<rect x="1030.36" y="220.1" width="1.5" height="4.6" fill="#151515"/>
<rect x="1049.17" y="220.1" width="1.5" height="4.6" fill="#151515"/>
<rect x="1067.97" y="220.1" width="1.5" height="4.6" fill="#151515"/>
<rect x="1086.78" y="220.1" width="1.5" height="4.6" fill="#151515"/>
<rect x="1105.54" y="220.1" width="1.6" height="9.4" fill="#151515"/>
<rect x="1124.40" y="220.1" width="1.5" height="4.6" fill="#151515"/>
<rect x="1143.21" y="220.1" width="1.5" height="4.6" fill="#151515"/>
<rect x="1162.01" y="220.1" width="1.5" height="4.6" fill="#151515"/>
<rect x="1180.82" y="220.1" width="1.5" height="4.6" fill="#151515"/>
<text x="259.7" y="246.1" text-anchor="middle" class="t">20.00</text>
<text x="447.8" y="246.1" text-anchor="middle" class="t">40.00</text>
<text x="635.8" y="246.1" text-anchor="middle" class="t">60.00</text>
<text x="823.9" y="246.1" text-anchor="middle" class="t">80.00</text>
<text x="1012.0" y="246.1" text-anchor="middle" class="t">100.00</text>
<text x="59.4" y="37.9" text-anchor="end" class="t">100</text>
<text x="59.4" y="223.7" text-anchor="end" class="t">0</text>
<text transform="translate(61.6 124.3) rotate(-90)" text-anchor="middle" class="p">%</text>
<rect x="69.1" y="299.6" width="2.8" height="188.7" fill="#000"/>
<rect x="69.1" y="486.30" width="1130.6" height="2.0" fill="#000"/>
<rect x="61.8" y="484.65" width="7.5" height="1.5" fill="#151515"/>
<rect x="66" y="466.20" width="3.3" height="1.4" fill="#151515"/>
<rect x="66" y="447.70" width="3.3" height="1.4" fill="#151515"/>
<rect x="66" y="429.20" width="3.3" height="1.4" fill="#151515"/>
<rect x="66" y="410.70" width="3.3" height="1.4" fill="#151515"/>
<rect x="61.8" y="392.15" width="7.5" height="1.5" fill="#151515"/>
<rect x="66" y="373.70" width="3.3" height="1.4" fill="#151515"/>
<rect x="66" y="355.20" width="3.3" height="1.4" fill="#151515"/>
<rect x="66" y="336.70" width="3.3" height="1.4" fill="#151515"/>
<rect x="66" y="318.20" width="3.3" height="1.4" fill="#151515"/>
<rect x="61.8" y="299.65" width="7.5" height="1.5" fill="#151515"/>
<rect x="89.96" y="488.1" width="1.5" height="4.6" fill="#151515"/>
<rect x="108.77" y="488.1" width="1.5" height="4.6" fill="#151515"/>
<rect x="127.57" y="488.1" width="1.5" height="4.6" fill="#151515"/>
<rect x="146.38" y="488.1" width="1.5" height="4.6" fill="#151515"/>
<rect x="165.14" y="488.1" width="1.6" height="9.4" fill="#151515"/>
<rect x="184.00" y="488.1" width="1.5" height="4.6" fill="#151515"/>
<rect x="202.81" y="488.1" width="1.5" height="4.6" fill="#151515"/>
<rect x="221.61" y="488.1" width="1.5" height="4.6" fill="#151515"/>
<rect x="240.42" y="488.1" width="1.5" height="4.6" fill="#151515"/>
<rect x="259.18" y="488.1" width="1.6" height="9.4" fill="#151515"/>
<rect x="278.04" y="488.1" width="1.5" height="4.6" fill="#151515"/>
<rect x="296.85" y="488.1" width="1.5" height="4.6" fill="#151515"/>
<rect x="315.65" y="488.1" width="1.5" height="4.6" fill="#151515"/>
<rect x="334.46" y="488.1" width="1.5" height="4.6" fill="#151515"/>
<rect x="353.22" y="488.1" width="1.6" height="9.4" fill="#151515"/>
<rect x="372.08" y="488.1" width="1.5" height="4.6" fill="#151515"/>
<rect x="390.89" y="488.1" width="1.5" height="4.6" fill="#151515"/>
<rect x="409.69" y="488.1" width="1.5" height="4.6" fill="#151515"/>
<rect x="428.50" y="488.1" width="1.5" height="4.6" fill="#151515"/>
<rect x="447.26" y="488.1" width="1.6" height="9.4" fill="#151515"/>
<rect x="466.12" y="488.1" width="1.5" height="4.6" fill="#151515"/>
<rect x="484.93" y="488.1" width="1.5" height="4.6" fill="#151515"/>
<rect x="503.73" y="488.1" width="1.5" height="4.6" fill="#151515"/>
<rect x="522.54" y="488.1" width="1.5" height="4.6" fill="#151515"/>
<rect x="541.30" y="488.1" width="1.6" height="9.4" fill="#151515"/>
<rect x="560.16" y="488.1" width="1.5" height="4.6" fill="#151515"/>
<rect x="578.97" y="488.1" width="1.5" height="4.6" fill="#151515"/>
<rect x="597.77" y="488.1" width="1.5" height="4.6" fill="#151515"/>
<rect x="616.58" y="488.1" width="1.5" height="4.6" fill="#151515"/>
<rect x="635.34" y="488.1" width="1.6" height="9.4" fill="#151515"/>
<rect x="654.20" y="488.1" width="1.5" height="4.6" fill="#151515"/>
<rect x="673.01" y="488.1" width="1.5" height="4.6" fill="#151515"/>
<rect x="691.81" y="488.1" width="1.5" height="4.6" fill="#151515"/>
<rect x="710.62" y="488.1" width="1.5" height="4.6" fill="#151515"/>
<rect x="729.38" y="488.1" width="1.6" height="9.4" fill="#151515"/>
<rect x="748.24" y="488.1" width="1.5" height="4.6" fill="#151515"/>
<rect x="767.05" y="488.1" width="1.5" height="4.6" fill="#151515"/>
<rect x="785.85" y="488.1" width="1.5" height="4.6" fill="#151515"/>
<rect x="804.66" y="488.1" width="1.5" height="4.6" fill="#151515"/>
<rect x="823.42" y="488.1" width="1.6" height="9.4" fill="#151515"/>
<rect x="842.28" y="488.1" width="1.5" height="4.6" fill="#151515"/>
<rect x="861.09" y="488.1" width="1.5" height="4.6" fill="#151515"/>
<rect x="879.89" y="488.1" width="1.5" height="4.6" fill="#151515"/>
<rect x="898.70" y="488.1" width="1.5" height="4.6" fill="#151515"/>
<rect x="917.46" y="488.1" width="1.6" height="9.4" fill="#151515"/>
<rect x="936.32" y="488.1" width="1.5" height="4.6" fill="#151515"/>
<rect x="955.13" y="488.1" width="1.5" height="4.6" fill="#151515"/>
<rect x="973.93" y="488.1" width="1.5" height="4.6" fill="#151515"/>
<rect x="992.74" y="488.1" width="1.5" height="4.6" fill="#151515"/>
<rect x="1011.50" y="488.1" width="1.6" height="9.4" fill="#151515"/>
<rect x="1030.36" y="488.1" width="1.5" height="4.6" fill="#151515"/>
<rect x="1049.17" y="488.1" width="1.5" height="4.6" fill="#151515"/>
<rect x="1067.97" y="488.1" width="1.5" height="4.6" fill="#151515"/>
<rect x="1086.78" y="488.1" width="1.5" height="4.6" fill="#151515"/>
<rect x="1105.54" y="488.1" width="1.6" height="9.4" fill="#151515"/>
<rect x="1124.40" y="488.1" width="1.5" height="4.6" fill="#151515"/>
<rect x="1143.21" y="488.1" width="1.5" height="4.6" fill="#151515"/>
<rect x="1162.01" y="488.1" width="1.5" height="4.6" fill="#151515"/>
<rect x="1180.82" y="488.1" width="1.5" height="4.6" fill="#151515"/>
<text x="259.7" y="514.1" text-anchor="middle" class="t">20.00</text>
<text x="447.8" y="514.1" text-anchor="middle" class="t">40.00</text>
<text x="635.8" y="514.1" text-anchor="middle" class="t">60.00</text>
<text x="823.9" y="514.1" text-anchor="middle" class="t">80.00</text>
<text x="1012.0" y="514.1" text-anchor="middle" class="t">100.00</text>
<text x="59.4" y="306.3" text-anchor="end" class="t">100</text>
<text x="59.4" y="491.3" text-anchor="end" class="t">0</text>
<text transform="translate(61.6 392.3) rotate(-90)" text-anchor="middle" class="p">%</text>
<rect x="69.1" y="567.3" width="2.8" height="189.4" fill="#000"/>
<rect x="69.1" y="754.70" width="1130.6" height="2.0" fill="#000"/>
<rect x="61.8" y="753.05" width="7.5" height="1.5" fill="#151515"/>
<rect x="66" y="734.53" width="3.3" height="1.4" fill="#151515"/>
<rect x="66" y="715.96" width="3.3" height="1.4" fill="#151515"/>
<rect x="66" y="697.39" width="3.3" height="1.4" fill="#151515"/>
<rect x="66" y="678.82" width="3.3" height="1.4" fill="#151515"/>
<rect x="61.8" y="660.20" width="7.5" height="1.5" fill="#151515"/>
<rect x="66" y="641.68" width="3.3" height="1.4" fill="#151515"/>
<rect x="66" y="623.11" width="3.3" height="1.4" fill="#151515"/>
<rect x="66" y="604.54" width="3.3" height="1.4" fill="#151515"/>
<rect x="66" y="585.97" width="3.3" height="1.4" fill="#151515"/>
<rect x="61.8" y="567.35" width="7.5" height="1.5" fill="#151515"/>
<rect x="89.96" y="756.5" width="1.5" height="4.6" fill="#151515"/>
<rect x="108.77" y="756.5" width="1.5" height="4.6" fill="#151515"/>
<rect x="127.57" y="756.5" width="1.5" height="4.6" fill="#151515"/>
<rect x="146.38" y="756.5" width="1.5" height="4.6" fill="#151515"/>
<rect x="165.14" y="756.5" width="1.6" height="9.4" fill="#151515"/>
<rect x="184.00" y="756.5" width="1.5" height="4.6" fill="#151515"/>
<rect x="202.81" y="756.5" width="1.5" height="4.6" fill="#151515"/>
<rect x="221.61" y="756.5" width="1.5" height="4.6" fill="#151515"/>
<rect x="240.42" y="756.5" width="1.5" height="4.6" fill="#151515"/>
<rect x="259.18" y="756.5" width="1.6" height="9.4" fill="#151515"/>
<rect x="278.04" y="756.5" width="1.5" height="4.6" fill="#151515"/>
<rect x="296.85" y="756.5" width="1.5" height="4.6" fill="#151515"/>
<rect x="315.65" y="756.5" width="1.5" height="4.6" fill="#151515"/>
<rect x="334.46" y="756.5" width="1.5" height="4.6" fill="#151515"/>
<rect x="353.22" y="756.5" width="1.6" height="9.4" fill="#151515"/>
<rect x="372.08" y="756.5" width="1.5" height="4.6" fill="#151515"/>
<rect x="390.89" y="756.5" width="1.5" height="4.6" fill="#151515"/>
<rect x="409.69" y="756.5" width="1.5" height="4.6" fill="#151515"/>
<rect x="428.50" y="756.5" width="1.5" height="4.6" fill="#151515"/>
<rect x="447.26" y="756.5" width="1.6" height="9.4" fill="#151515"/>
<rect x="466.12" y="756.5" width="1.5" height="4.6" fill="#151515"/>
<rect x="484.93" y="756.5" width="1.5" height="4.6" fill="#151515"/>
<rect x="503.73" y="756.5" width="1.5" height="4.6" fill="#151515"/>
<rect x="522.54" y="756.5" width="1.5" height="4.6" fill="#151515"/>
<rect x="541.30" y="756.5" width="1.6" height="9.4" fill="#151515"/>
<rect x="560.16" y="756.5" width="1.5" height="4.6" fill="#151515"/>
<rect x="578.97" y="756.5" width="1.5" height="4.6" fill="#151515"/>
<rect x="597.77" y="756.5" width="1.5" height="4.6" fill="#151515"/>
<rect x="616.58" y="756.5" width="1.5" height="4.6" fill="#151515"/>
<rect x="635.34" y="756.5" width="1.6" height="9.4" fill="#151515"/>
<rect x="654.20" y="756.5" width="1.5" height="4.6" fill="#151515"/>
<rect x="673.01" y="756.5" width="1.5" height="4.6" fill="#151515"/>
<rect x="691.81" y="756.5" width="1.5" height="4.6" fill="#151515"/>
<rect x="710.62" y="756.5" width="1.5" height="4.6" fill="#151515"/>
<rect x="729.38" y="756.5" width="1.6" height="9.4" fill="#151515"/>
<rect x="748.24" y="756.5" width="1.5" height="4.6" fill="#151515"/>
<rect x="767.05" y="756.5" width="1.5" height="4.6" fill="#151515"/>
<rect x="785.85" y="756.5" width="1.5" height="4.6" fill="#151515"/>
<rect x="804.66" y="756.5" width="1.5" height="4.6" fill="#151515"/>
<rect x="823.42" y="756.5" width="1.6" height="9.4" fill="#151515"/>
<rect x="842.28" y="756.5" width="1.5" height="4.6" fill="#151515"/>
<rect x="861.09" y="756.5" width="1.5" height="4.6" fill="#151515"/>
<rect x="879.89" y="756.5" width="1.5" height="4.6" fill="#151515"/>
<rect x="898.70" y="756.5" width="1.5" height="4.6" fill="#151515"/>
<rect x="917.46" y="756.5" width="1.6" height="9.4" fill="#151515"/>
<rect x="936.32" y="756.5" width="1.5" height="4.6" fill="#151515"/>
<rect x="955.13" y="756.5" width="1.5" height="4.6" fill="#151515"/>
<rect x="973.93" y="756.5" width="1.5" height="4.6" fill="#151515"/>
<rect x="992.74" y="756.5" width="1.5" height="4.6" fill="#151515"/>
<rect x="1011.50" y="756.5" width="1.6" height="9.4" fill="#151515"/>
<rect x="1030.36" y="756.5" width="1.5" height="4.6" fill="#151515"/>
<rect x="1049.17" y="756.5" width="1.5" height="4.6" fill="#151515"/>
<rect x="1067.97" y="756.5" width="1.5" height="4.6" fill="#151515"/>
<rect x="1086.78" y="756.5" width="1.5" height="4.6" fill="#151515"/>
<rect x="1105.54" y="756.5" width="1.6" height="9.4" fill="#151515"/>
<rect x="1124.40" y="756.5" width="1.5" height="4.6" fill="#151515"/>
<rect x="1143.21" y="756.5" width="1.5" height="4.6" fill="#151515"/>
<rect x="1162.01" y="756.5" width="1.5" height="4.6" fill="#151515"/>
<rect x="1180.82" y="756.5" width="1.5" height="4.6" fill="#151515"/>
<text x="259.7" y="782.5" text-anchor="middle" class="t">20.00</text>
<text x="447.8" y="782.5" text-anchor="middle" class="t">40.00</text>
<text x="635.8" y="782.5" text-anchor="middle" class="t">60.00</text>
<text x="823.9" y="782.5" text-anchor="middle" class="t">80.00</text>
<text x="1012.0" y="782.5" text-anchor="middle" class="t">100.00</text>
<text x="59.4" y="574.0" text-anchor="end" class="t">100</text>
<text x="59.4" y="759.7" text-anchor="end" class="t">0</text>
<text transform="translate(61.6 660.4) rotate(-90)" text-anchor="middle" class="p">%</text>
<rect x="1020.9" y="23.8" width="160.8" height="64.6" rx="1.5" fill="#fff" stroke="#1b75b6" stroke-width="5"/>
<text x="1099.90" y="64.4" text-anchor="middle" class="b">1 µm</text>
<rect x="1020.9" y="280.8" width="160.8" height="63.9" rx="1.5" fill="#fff" stroke="#1b75b6" stroke-width="5"/>
<text x="1099.75" y="321.8" text-anchor="middle" class="b">300 µm</text>
<rect x="1020.9" y="540.2" width="160.8" height="59.0" rx="1.5" fill="#fff" stroke="#1b75b6" stroke-width="5"/>
<text x="1100.10" y="578.4" text-anchor="middle" class="b">75 µm</text>
<g fill="none" stroke="#1a1a1a" stroke-width="1.1" stroke-linecap="butt" stroke-linejoin="miter">
<path d="M1213.6 750.3 H1217.4 V760.2 H1213.6 Z M1213.6 755.2 H1217.4"/>
<path d="M1219 751.4 H1226.7 M1224.7 749 V761.4 L1221 761.2 M1220.2 754.6 L1222 757.8"/>
<path d="M1230.2 752.6 V761.8 M1230.6 749.4 L1232 750.6 M1233.2 749.5 H1241.6 V761.6 L1239.8 761.4"/>
<path d="M1233.8 753.1 H1238.6 V759.6 H1233.8 Z M1233.8 756.3 H1238.6"/>
</g>
</svg>
</body></html>
